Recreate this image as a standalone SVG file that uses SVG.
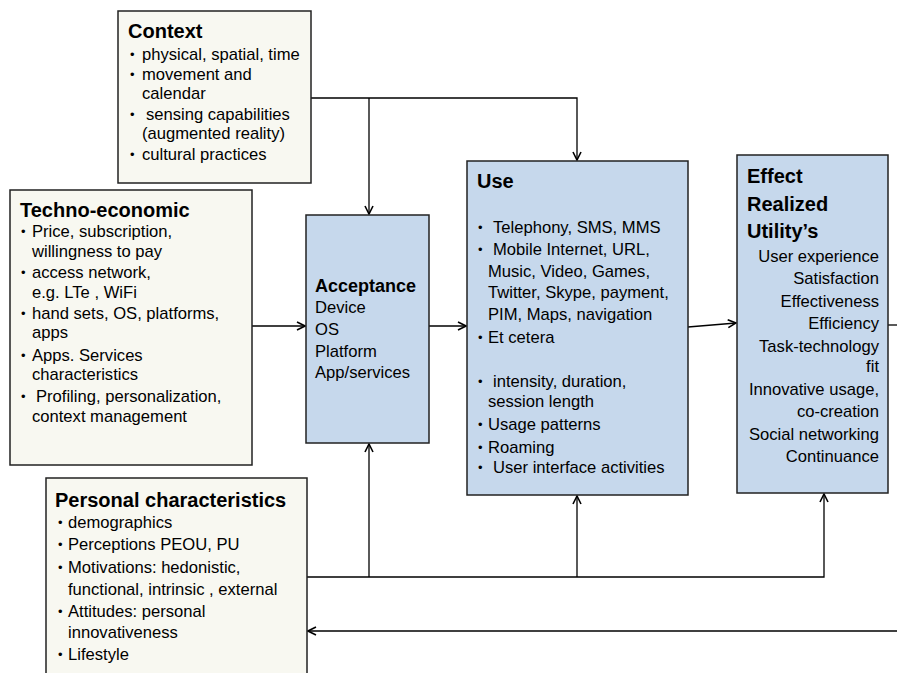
<svg xmlns="http://www.w3.org/2000/svg" width="897" height="673" viewBox="0 0 897 673">
<defs>
<marker id="arr" viewBox="0 0 10 10" refX="9" refY="5" markerWidth="10" markerHeight="10" markerUnits="userSpaceOnUse" orient="auto">
<path d="M1,1 L9,5 L1,9" fill="none" stroke="#000" stroke-width="1.6"/>
</marker>
<style>
.cream{fill:#f8f8f1;stroke:#222;stroke-width:1.5}
.blue{fill:#c6d8ec;stroke:#222;stroke-width:1.5}
text{font-family:"Liberation Sans",Arial,sans-serif;font-size:16.6px;fill:#000}
.t{font-weight:bold;font-size:20px}
.e{text-anchor:end}
.b{font-size:13px}
.c{fill:none;stroke:#000;stroke-width:1.3}
</style>
</defs>
<rect width="897" height="673" fill="#fff"/>
<g id="connectors">
<polyline class="c" points="311,98 577,98 577,160" marker-end="url(#arr)"/>
<line class="c" x1="369" y1="98" x2="369" y2="214" marker-end="url(#arr)"/>
<line class="c" x1="252" y1="326" x2="305" y2="326" marker-end="url(#arr)"/>
<line class="c" x1="429" y1="326" x2="466" y2="326" marker-end="url(#arr)"/>
<line class="c" x1="688" y1="327" x2="736" y2="323" marker-end="url(#arr)"/>
<line class="c" x1="888" y1="325" x2="897" y2="325"/>
<polyline class="c" points="307,577 824,577 824,494" marker-end="url(#arr)"/>
<line class="c" x1="369" y1="577" x2="369" y2="444" marker-end="url(#arr)"/>
<line class="c" x1="577" y1="577" x2="577" y2="496" marker-end="url(#arr)"/>
<line class="c" x1="897" y1="631" x2="308" y2="631" marker-end="url(#arr)"/>
</g>
<g id="context">
<rect class="cream" x="118" y="11" width="193" height="172"/>
<text class="t" x="128" y="38">Context</text>
<text class="b" x="130" y="59">•</text>
<text x="142" y="60">physical, spatial, time</text>
<text class="b" x="130" y="79">•</text>
<text x="142" y="80">movement and</text>
<text x="142" y="99">calendar</text>
<text class="b" x="130" y="119">•</text>
<text x="146" y="120">sensing capabilities</text>
<text x="142" y="139">(augmented reality)</text>
<text class="b" x="130" y="159">•</text>
<text x="142" y="160">cultural practices</text>
</g>
<g id="techno">
<rect class="cream" x="10" y="190" width="242" height="275"/>
<text class="t" x="20" y="217">Techno-economic</text>
<text class="b" x="21" y="236">•</text>
<text x="32" y="237">Price, subscription,</text>
<text x="32" y="257">willingness to pay</text>
<text class="b" x="21" y="277">•</text>
<text x="32" y="278">access network,</text>
<text x="32" y="298">e.g.  LTe , WiFi</text>
<text class="b" x="21" y="318">•</text>
<text x="32" y="319">hand sets, OS, platforms,</text>
<text x="32" y="338">apps</text>
<text class="b" x="21" y="360">•</text>
<text x="32" y="361">Apps. Services</text>
<text x="32" y="380">characteristics</text>
<text class="b" x="21" y="401">•</text>
<text x="36" y="402">Profiling, personalization,</text>
<text x="32" y="422">context management</text>
</g>
<g id="acceptance">
<rect class="blue" x="306" y="215" width="123" height="228"/>
<text class="t" x="315" y="292" style="font-size:18px">Acceptance</text>
<text x="315" y="313">Device</text>
<text x="315" y="335">OS</text>
<text x="315" y="357">Platform</text>
<text x="315" y="378">App/services</text>
</g>
<g id="use">
<rect class="blue" x="467" y="161" width="221" height="334"/>
<text class="t" x="477" y="188">Use</text>
<text class="b" x="478" y="232">•</text>
<text x="493" y="233">Telephony, SMS, MMS</text>
<text class="b" x="478" y="254">•</text>
<text x="493" y="255">Mobile Internet, URL,</text>
<text x="488" y="277">Music, Video, Games,</text>
<text x="488" y="298">Twitter, Skype, payment,</text>
<text x="488" y="320">PIM, Maps, navigation</text>
<text class="b" x="478" y="342">•</text>
<text x="488" y="343">Et cetera</text>
<text class="b" x="478" y="386">•</text>
<text x="493" y="387">intensity, duration,</text>
<text x="488" y="407">session length</text>
<text class="b" x="478" y="429">•</text>
<text x="488" y="430">Usage patterns</text>
<text class="b" x="478" y="452">•</text>
<text x="488" y="453">Roaming</text>
<text class="b" x="478" y="472">•</text>
<text x="493" y="473">User interface activities</text>
</g>
<g id="effect">
<rect class="blue" x="737" y="155" width="151" height="338"/>
<text class="t" x="747" y="183">Effect</text>
<text class="t" x="747" y="211">Realized</text>
<text class="t" x="747" y="238">Utility’s</text>
<text class="e" x="879" y="262">User experience</text>
<text class="e" x="879" y="284">Satisfaction</text>
<text class="e" x="879" y="307">Effectiveness</text>
<text class="e" x="879" y="329">Efficiency</text>
<text class="e" x="879" y="352">Task-technology</text>
<text class="e" x="879" y="372">fit</text>
<text class="e" x="879" y="395">Innovative usage,</text>
<text class="e" x="879" y="417">co-creation</text>
<text class="e" x="879" y="440">Social networking</text>
<text class="e" x="879" y="462">Continuance</text>
</g>
<g id="personal">
<rect class="cream" x="46" y="478" width="261" height="210"/>
<text class="t" x="55" y="507">Personal characteristics</text>
<text class="b" x="58" y="527">•</text>
<text x="68" y="528">demographics</text>
<text class="b" x="58" y="549">•</text>
<text x="68" y="550">Perceptions  PEOU, PU</text>
<text class="b" x="58" y="572">•</text>
<text x="68" y="573">Motivations: hedonistic,</text>
<text x="68" y="595">functional, intrinsic , external</text>
<text class="b" x="58" y="616">•</text>
<text x="68" y="617">Attitudes: personal</text>
<text x="68" y="638">innovativeness</text>
<text class="b" x="58" y="659">•</text>
<text x="68" y="660">Lifestyle</text>
</g>
</svg>
